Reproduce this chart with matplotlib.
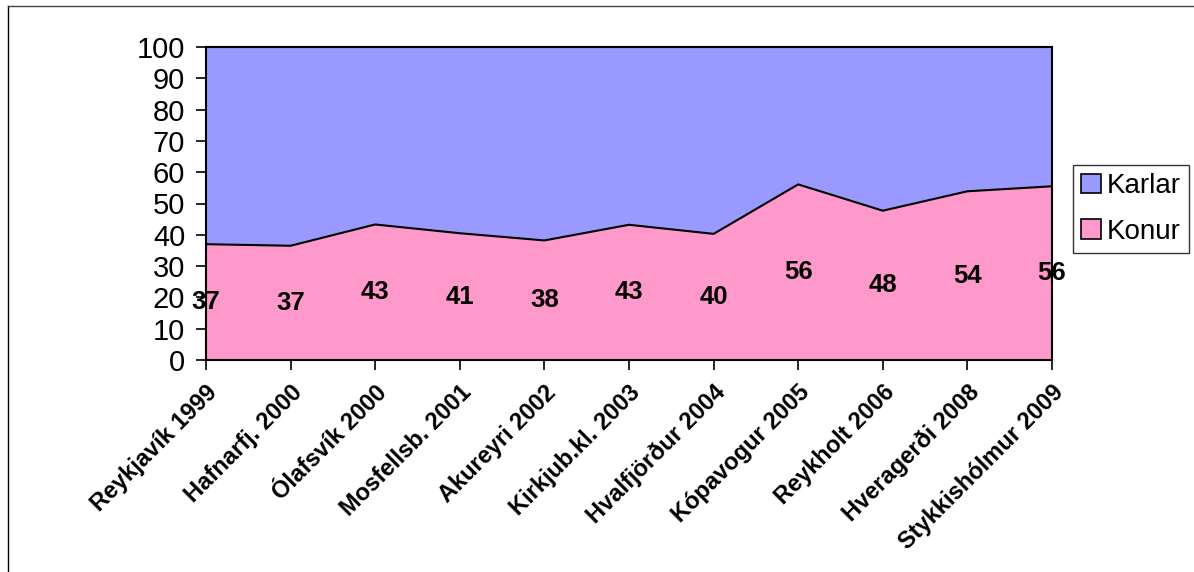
import matplotlib
matplotlib.use("Agg")
import matplotlib.pyplot as plt
from matplotlib.lines import Line2D
from matplotlib.patches import Patch
import numpy as np

categories = ["Reykjavík 1999", "Hafnarfj. 2000", "Ólafsvík 2000", "Mosfellsb. 2001",
              "Akureyri 2002", "Kirkjub.kl. 2003", "Hvalfjörður 2004", "Kópavogur 2005",
              "Reykholt 2006", "Hveragerði 2008", "Stykkishólmur 2009"]
konur = [37.0, 36.5, 43.3, 40.5, 38.2, 43.2, 40.3, 56.1, 47.7, 53.9, 55.5]
karlar = [100 - v for v in konur]
yticks = [0, 10, 20, 30, 40, 50, 60, 70, 80, 90, 100]

plt.rcParams['font.family'] = ['Liberation Sans', 'DejaVu Sans']

fig = plt.figure(figsize=(11.94, 5.72), dpi=100)
ax = fig.add_axes([206/1194, 1 - 360/572, (1052-206)/1194, (360-47)/572])

x = np.arange(len(categories))
pink = '#FF99CC'
blue = '#9999FF'
ax.stackplot(x, konur, karlar, colors=[pink, blue], linewidth=0)
ax.plot(x, konur, color='black', linewidth=1.5)

for xi, v in zip(x, konur):
    ax.text(xi, v / 2, str(int(v + 0.5)), ha='center', va='center',
            fontsize=18.5, fontweight='bold', clip_on=False, zorder=5)

ax.set_xlim(0, len(categories) - 1)
ax.set_ylim(0, 100)
ax.set_yticks(yticks)
ax.set_yticklabels([str(t) for t in yticks], fontsize=21)
ax.set_xticks(x)
ax.set_xticklabels(categories, rotation=45, ha='right', rotation_mode='anchor',
                   fontsize=17, fontweight='bold')
ax.tick_params(axis='both', direction='out', length=7, width=1.2, color='black')
ax.tick_params(axis='y', pad=8)
ax.tick_params(axis='x', pad=8)
for s in ax.spines.values():
    s.set_linewidth(1.5)
    s.set_color('black')

handles = [Patch(facecolor=blue, edgecolor='black', linewidth=1.2, label='Karlar'),
           Patch(facecolor=pink, edgecolor='black', linewidth=1.2, label='Konur')]
leg = fig.legend(handles=handles, loc='upper left',
                 bbox_to_anchor=(1073/1194, 1 - 165/572),
                 fontsize=20, frameon=True, fancybox=False, edgecolor='black',
                 handlelength=0.7, handleheight=0.7, handletextpad=0.2,
                 borderpad=0.3, labelspacing=0.7, borderaxespad=0)
leg.get_frame().set_linewidth(1.0)

# outer figure border (left and top)
fig.add_artist(Line2D([8/1194, 8/1194], [0, 1 - 6/572], transform=fig.transFigure,
                      color='black', linewidth=1.0))
fig.add_artist(Line2D([8/1194, 1], [1 - 6/572, 1 - 6/572], transform=fig.transFigure,
                      color='#444444', linewidth=1.0))

fig.savefig('out.png', dpi=100)
